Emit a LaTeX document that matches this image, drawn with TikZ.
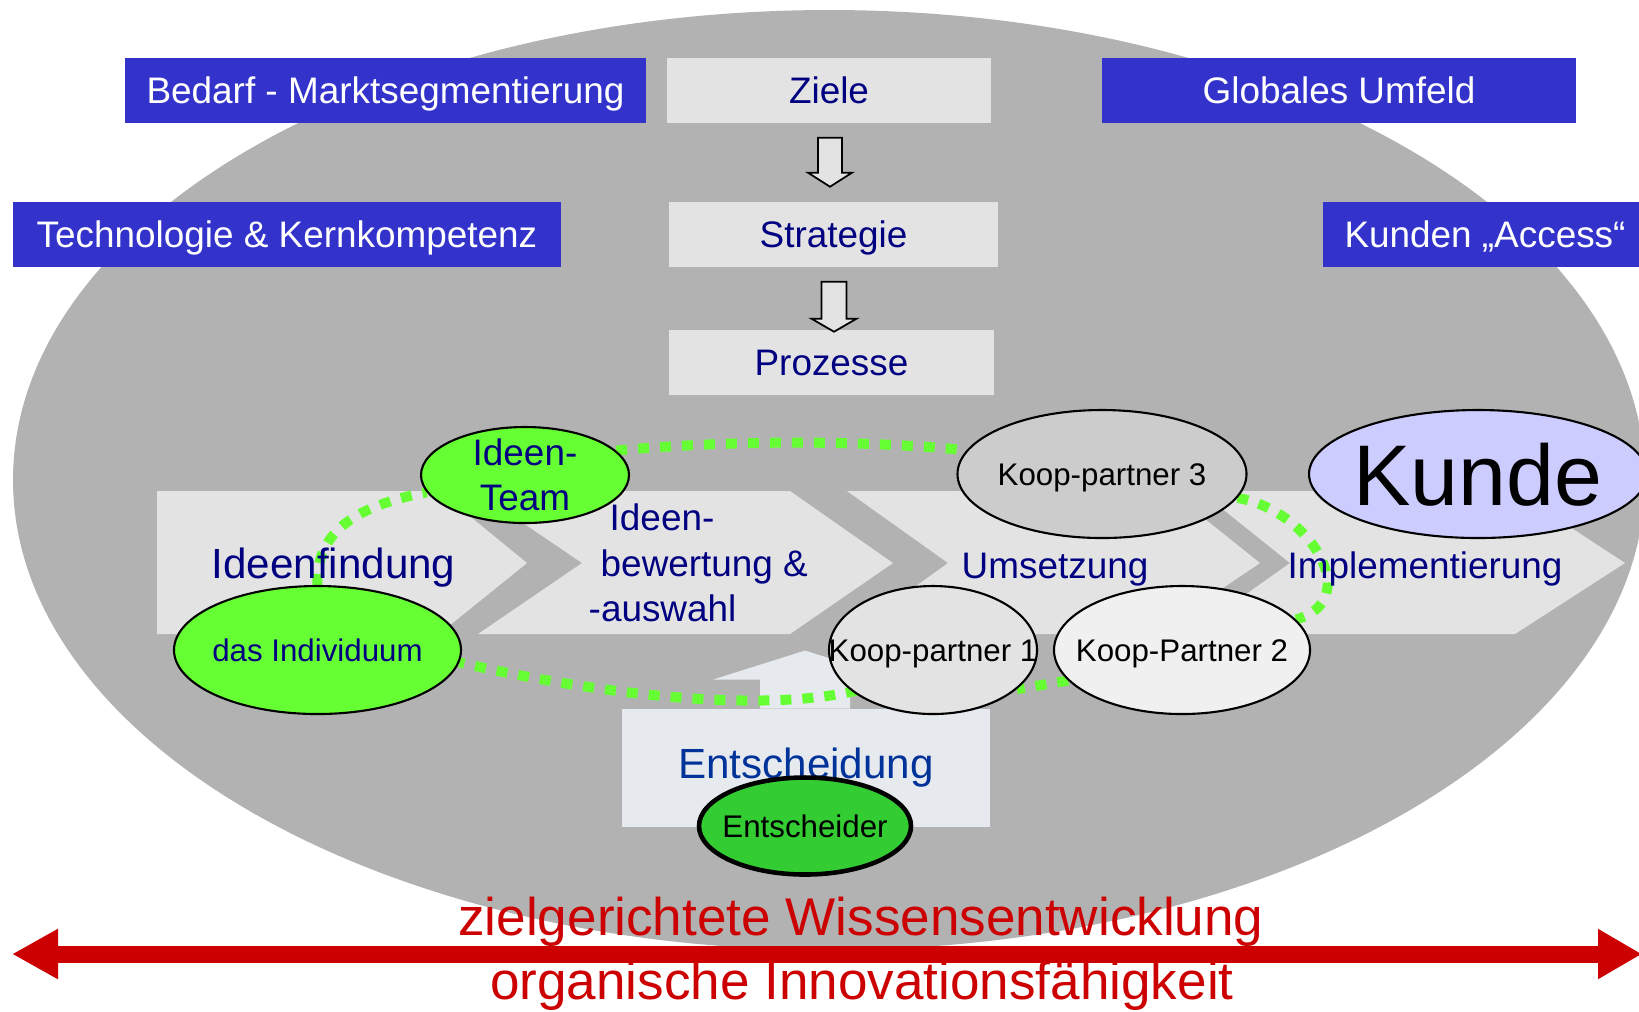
\documentclass[tikz,border=0pt]{standalone}
\usepackage{fontspec}
\setmainfont{Liberation Sans}
\usepackage{tikz}
\usetikzlibrary{arrows.meta,shapes,backgrounds,calc,positioning}
\pgfdeclarelayer{ring}
\pgfsetlayers{background,ring,main}

\definecolor{plate}{HTML}{B2B2B2}
\definecolor{panel}{HTML}{E3E3E3}
\definecolor{royal}{HTML}{3333CC}
\definecolor{ink}{HTML}{000080}
\definecolor{dblue}{HTML}{003399}
\definecolor{pale}{HTML}{E6EAEF}
\definecolor{lime}{HTML}{66FF33}
\definecolor{leaf}{HTML}{33CC33}
\definecolor{lilac}{HTML}{CCCCFF}
\definecolor{partnerA}{HTML}{E3E3E3}
\definecolor{partnerB}{HTML}{F0F0F0}
\definecolor{partnerC}{HTML}{CCCCCC}
\definecolor{signal}{HTML}{CC0000}

\newcommand{\nowide}[1]{\makebox[0pt]{#1}}

\begin{document}
\begin{tikzpicture}[x=0.1mm,y=-0.1mm]
    \tikzstyle{bluebox}=[rectangle, fill=royal, text=white, minimum height=6.5mm, inner sep=0pt, text height=2.65mm, text depth=0pt, font=\fontsize{10.5}{12.8}\selectfont]
    \tikzstyle{greybox}=[bluebox, fill=panel, text=ink]
    \tikzstyle{hollow}=[draw, line width=0.5pt, fill=panel]
    \tikzstyle{stage}=[fill=panel]
    \tikzstyle{phase}=[anchor=base, text=ink, font=\fontsize{10.5}{12.95}\selectfont]
    \tikzstyle{person}=[ellipse, draw, line width=0.6pt, inner sep=0pt, minimum height=12.8mm]
    \tikzstyle{actor}=[person, text height=2.2mm, text depth=0pt, font=\fontsize{8.9}{10.5}\selectfont]
    \tikzstyle{loopline}=[lime, line width=1mm, dash pattern=on 1.1mm off 1.1mm]

    \useasboundingbox (0,0) rectangle (1639,1011);

    \begin{pgfonlayer}{background}
      \fill[plate] (829,480) ellipse [x radius=81.6mm, y radius=47mm];
      % process chevrons
      \fill[stage] (157,491) -- (439,491) -- (527,563) -- (439,634) -- (157,634) -- cycle;
      \fill[stage] (476,491) -- (790,491) -- (893,563) -- (790,634) -- (478,634) -- (582,563) -- cycle;
      \fill[stage] (847,491) -- (1170,491) -- (1260,563) -- (1155,634) -- (849,634) -- (948,563) -- cycle;
      \fill[stage] (1200,491) -- (1515,491) -- (1625,563) -- (1515,634) -- (1190,634) -- (1290,563) -- cycle;
    \end{pgfonlayer}

    \node[bluebox, minimum width=52.1mm] (bedarf) at (385.5,90.5) {Bedarf - Marktsegmentierung};
    \node[greybox, minimum width=32.4mm] (ziele) at (829,90.5) {Ziele};
    \node[bluebox, minimum width=47.4mm] (umfeld) at (1339,90.5) {Globales Umfeld};
    \node[bluebox, minimum width=54.8mm] (technik) at (287,234.5) {Technologie \& Kernkompetenz};
    \node[greybox, minimum width=32.9mm] (strategie) at (833.5,234.5) {Strategie};
    \node[bluebox, minimum width=32.4mm] (access) at (1485,234.5) {Kunden „Access“};
    \node[greybox, minimum width=32.5mm] (prozesse) at (831.5,362.5) {Prozesse};

    \draw[hollow] (ziele.south) ++(-11,14) -- ++(24,0) -- ++(0,35) -- ++(10,0) -- ++(-22,14) -- ++(-22,-14) -- ++(10,0) -- cycle;
    \draw[hollow] (strategie.south) ++(-12,14) -- ++(25,0) -- ++(0,37) -- ++(10,0) -- ++(-22.5,13) -- ++(-22.5,-13) -- ++(10,0) -- cycle;

    \node[phase, font=\fontsize{12}{14}\selectfont] (finden) at (333.5,578) {Ideenfindung};
    \node[phase, anchor=west, align=left, inner xsep=0pt] (bewerten) at (588,563) {\hspace*{2.1mm}Ideen-\\\hspace*{1.2mm}bewertung \&\\-auswahl};
    \node[phase] (umsetzen) at (1055,578) {Umsetzung};
    \node[phase] (einfuehren) at (1425,578) {Implementierung};

    \node[rectangle, fill=pale, minimum width=36.8mm, minimum height=11.75mm, inner sep=0pt, text=dblue, text height=3mm, text depth=0.9mm, font=\fontsize{12}{14}\selectfont] (entscheidung) at (806,768) {Entscheidung};
    \begin{pgfonlayer}{background}
      \fill[pale] (entscheidung.north) ++(-46,0) -- ++(0,-29) -- ++(-47,0) -- ++(92,-29) -- ++(92,29) -- ++(-47,0) -- ++(0,29) -- cycle;
    \end{pgfonlayer}

    \node[person, fill=lime, text=ink, minimum width=20.8mm, minimum height=9.6mm, inner ysep=-0.4mm, align=center, font=\fontsize{10.5}{12.8}\selectfont] (team) at (525,475) {Ideen-\\Team};
    \node[actor, fill=lime, text=ink, minimum width=28.7mm] (einzel) at (317.5,650) {\nowide{das Individuum}};
    \node[actor, fill=partnerC, minimum width=28.9mm] (koop3) at (1102,474) {\nowide{Koop-partner 3}};
    \node[actor, fill=lilac, minimum width=33.8mm, text height=6.2mm, font=\fontsize{24.5}{28}\selectfont] (kunde) at (1478,474) {\nowide{Kunde}};
    \node[actor, fill=partnerA, minimum width=20.8mm] (koop1) at (933,650) {\nowide{Koop-partner 1}};
    \node[actor, fill=partnerB, minimum width=25.6mm] (koop2) at (1182,650) {\nowide{Koop-Partner 2}};
    \node[actor, fill=leaf, line width=1.3pt, minimum width=21.2mm, minimum height=9.7mm] (entscheider) at (805,826) {\nowide{Entscheider}};

    \begin{pgfonlayer}{ring}
      \draw[loopline] (team.15) .. controls (730,440) and (860,440) .. (koop3.170);
      \draw[loopline] (koop3.-10) .. controls (1310,510) and (1365,600) .. (koop2.15);
      \draw[loopline] (koop2.195) -- (koop1.-25);
      \draw[loopline] (koop1.center) .. controls (870,730) and (620,700) .. (einzel.-5);
      \draw[loopline] (einzel.north) .. controls (315,530) and (360,505) .. (team.190);
    \end{pgfonlayer}

    \coordinate (links) at (12,954);
    \coordinate (rechts) at (1642,954);
    \draw[signal, line width=1.7mm, {Triangle[length=4.6mm,width=4.7mm]}-{Triangle[length=4.4mm,width=4.7mm]}] (links) -- (rechts);
    \node[anchor=base, text=signal, font=\fontsize{15.1}{18}\selectfont] (wissen) at (861,935) {zielgerichtete Wissensentwicklung};
    \node[anchor=base, text=signal, font=\fontsize{15.1}{18}\selectfont] (organisch) at (862,999) {organische Innovationsfähigkeit};
\end{tikzpicture}
\end{document}
